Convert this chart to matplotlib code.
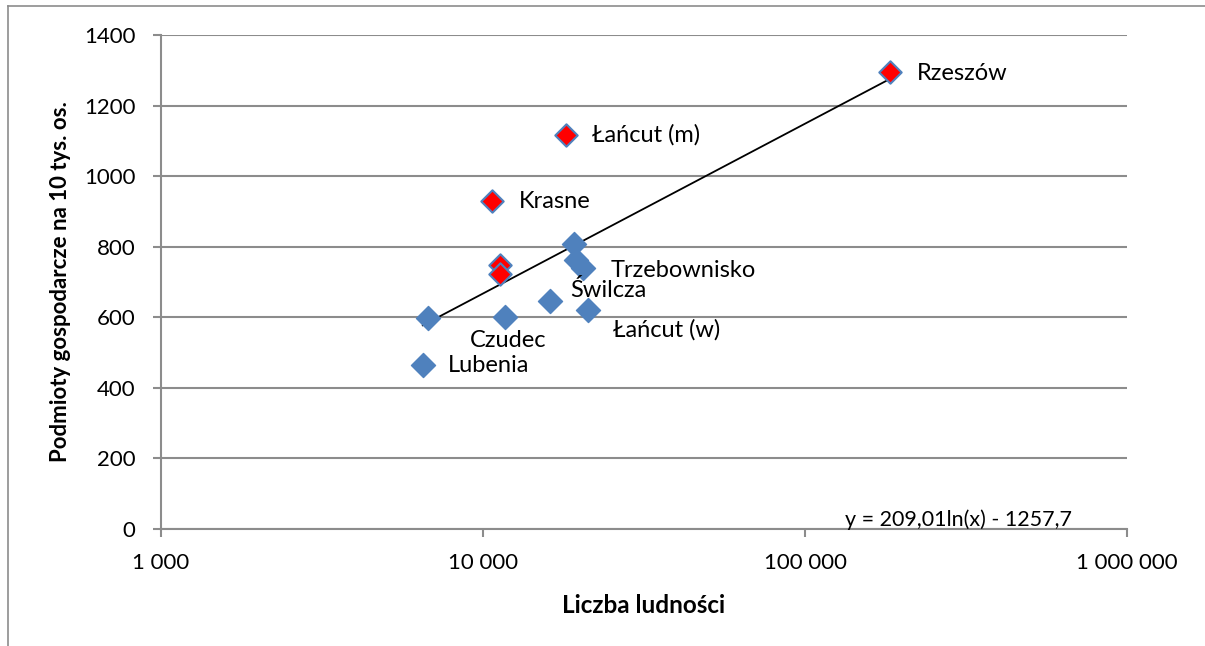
import matplotlib
matplotlib.use("Agg")
import matplotlib.pyplot as plt
from matplotlib.ticker import FuncFormatter, FixedLocator
from matplotlib.lines import Line2D
import numpy as np

plt.rcParams['font.family'] = ['Lato', 'DejaVu Sans']

# blue points (gminy wiejskie / wiejsko-miejskie)
blue_x = [6500, 6770, 11700, 16200, 19200, 19400, 20400, 21200]
blue_y = [465, 597, 602, 647, 808, 762, 739, 621]
# red points (miasta)
red_x = [10650, 11300, 11300, 18070, 183400]
red_y = [930, 748, 723, 1117, 1294]

# labels: text, x of anchor point, y of anchor point
label_names = ['Rzeszów', 'Łańcut (m)', 'Krasne', 'Trzebownisko', 'Świlcza',
               'Łańcut (w)', 'Czudec', 'Lubenia']
label_x = [183400, 18070, 10650, 20400, 16200, 21200, 11700, 6500]
label_y = [1294, 1117, 930, 739, 647, 621, 602, 465]
# offsets in pixels (right, down)
label_dx = [27, 26, 27, 28, 20, 25, -35, 25]
label_dy = [1, 0, 1, 2, -11, 20, 24, 1]

# trend line coefficients
a, b = 209.01, -1257.7

blue = '#4F81BD'
grid_col = '#8C8C8C'

fig = plt.figure(figsize=(12.05, 6.46), dpi=100)
ax = fig.add_axes([161/1205, 1-529/646, (1127-161)/1205, (529-35)/646])

ax.set_xscale('log')
ax.set_xlim(1000, 1000000)
ax.set_ylim(0, 1400)

ax.yaxis.set_major_locator(FixedLocator(np.arange(0, 1401, 200)))
ax.xaxis.set_major_locator(FixedLocator([1000, 10000, 100000, 1000000]))
ax.xaxis.set_minor_locator(FixedLocator([]))
ax.xaxis.set_major_formatter(FuncFormatter(lambda v, p: f"{int(v):,}".replace(',', ' ')))

ax.grid(axis='y', color=grid_col, linewidth=1.5)
ax.set_axisbelow(True)

for side in ['top', 'right']:
    ax.spines[side].set_visible(False)
for side in ['left', 'bottom']:
    ax.spines[side].set_color(grid_col)
    ax.spines[side].set_linewidth(1.5)

ax.tick_params(axis='both', colors=grid_col, labelcolor='black', labelsize=16,
               length=5.5, width=1.5, direction='out')
ax.tick_params(axis='x', pad=12)
ax.tick_params(axis='y', pad=13)

# trend line
tx = np.linspace(min(blue_x + red_x), max(blue_x + red_x), 200)
ax.plot(tx, a * np.log(tx) + b, color='black', linewidth=1.3, zorder=2)

ax.scatter(blue_x, blue_y, marker='D', s=150, color=blue, edgecolors=blue,
           linewidths=1, zorder=3)
ax.scatter(red_x, red_y, marker='D', s=130, color='red', edgecolors=blue,
           linewidths=1.5, zorder=4)

for name, x, y, dx, dy in zip(label_names, label_x, label_y, label_dx, label_dy):
    ax.annotate(name, (x, y), xytext=(dx * 0.72, -dy * 0.72), textcoords='offset points',
                fontsize=17, va='center', ha='left')

ax.text(0.708, 0.006, 'y = 209,01ln(x) - 1257,7', transform=ax.transAxes,
        ha='left', va='baseline', fontsize=15.5)

ax.set_xlabel('Liczba ludności', fontsize=17.5, fontweight='bold', labelpad=15)
ax.set_ylabel('Podmioty gospodarcze na 10 tys. os.', fontsize=16, fontweight='bold',
              labelpad=9)

# chart border
fig.add_artist(Line2D([8/1205, 8/1205], [0, 1-6/646], color=grid_col, linewidth=1.2))
fig.add_artist(Line2D([8/1205, 1], [1-6/646, 1-6/646], color=grid_col, linewidth=1.2))

fig.savefig('out.png', dpi=100)
